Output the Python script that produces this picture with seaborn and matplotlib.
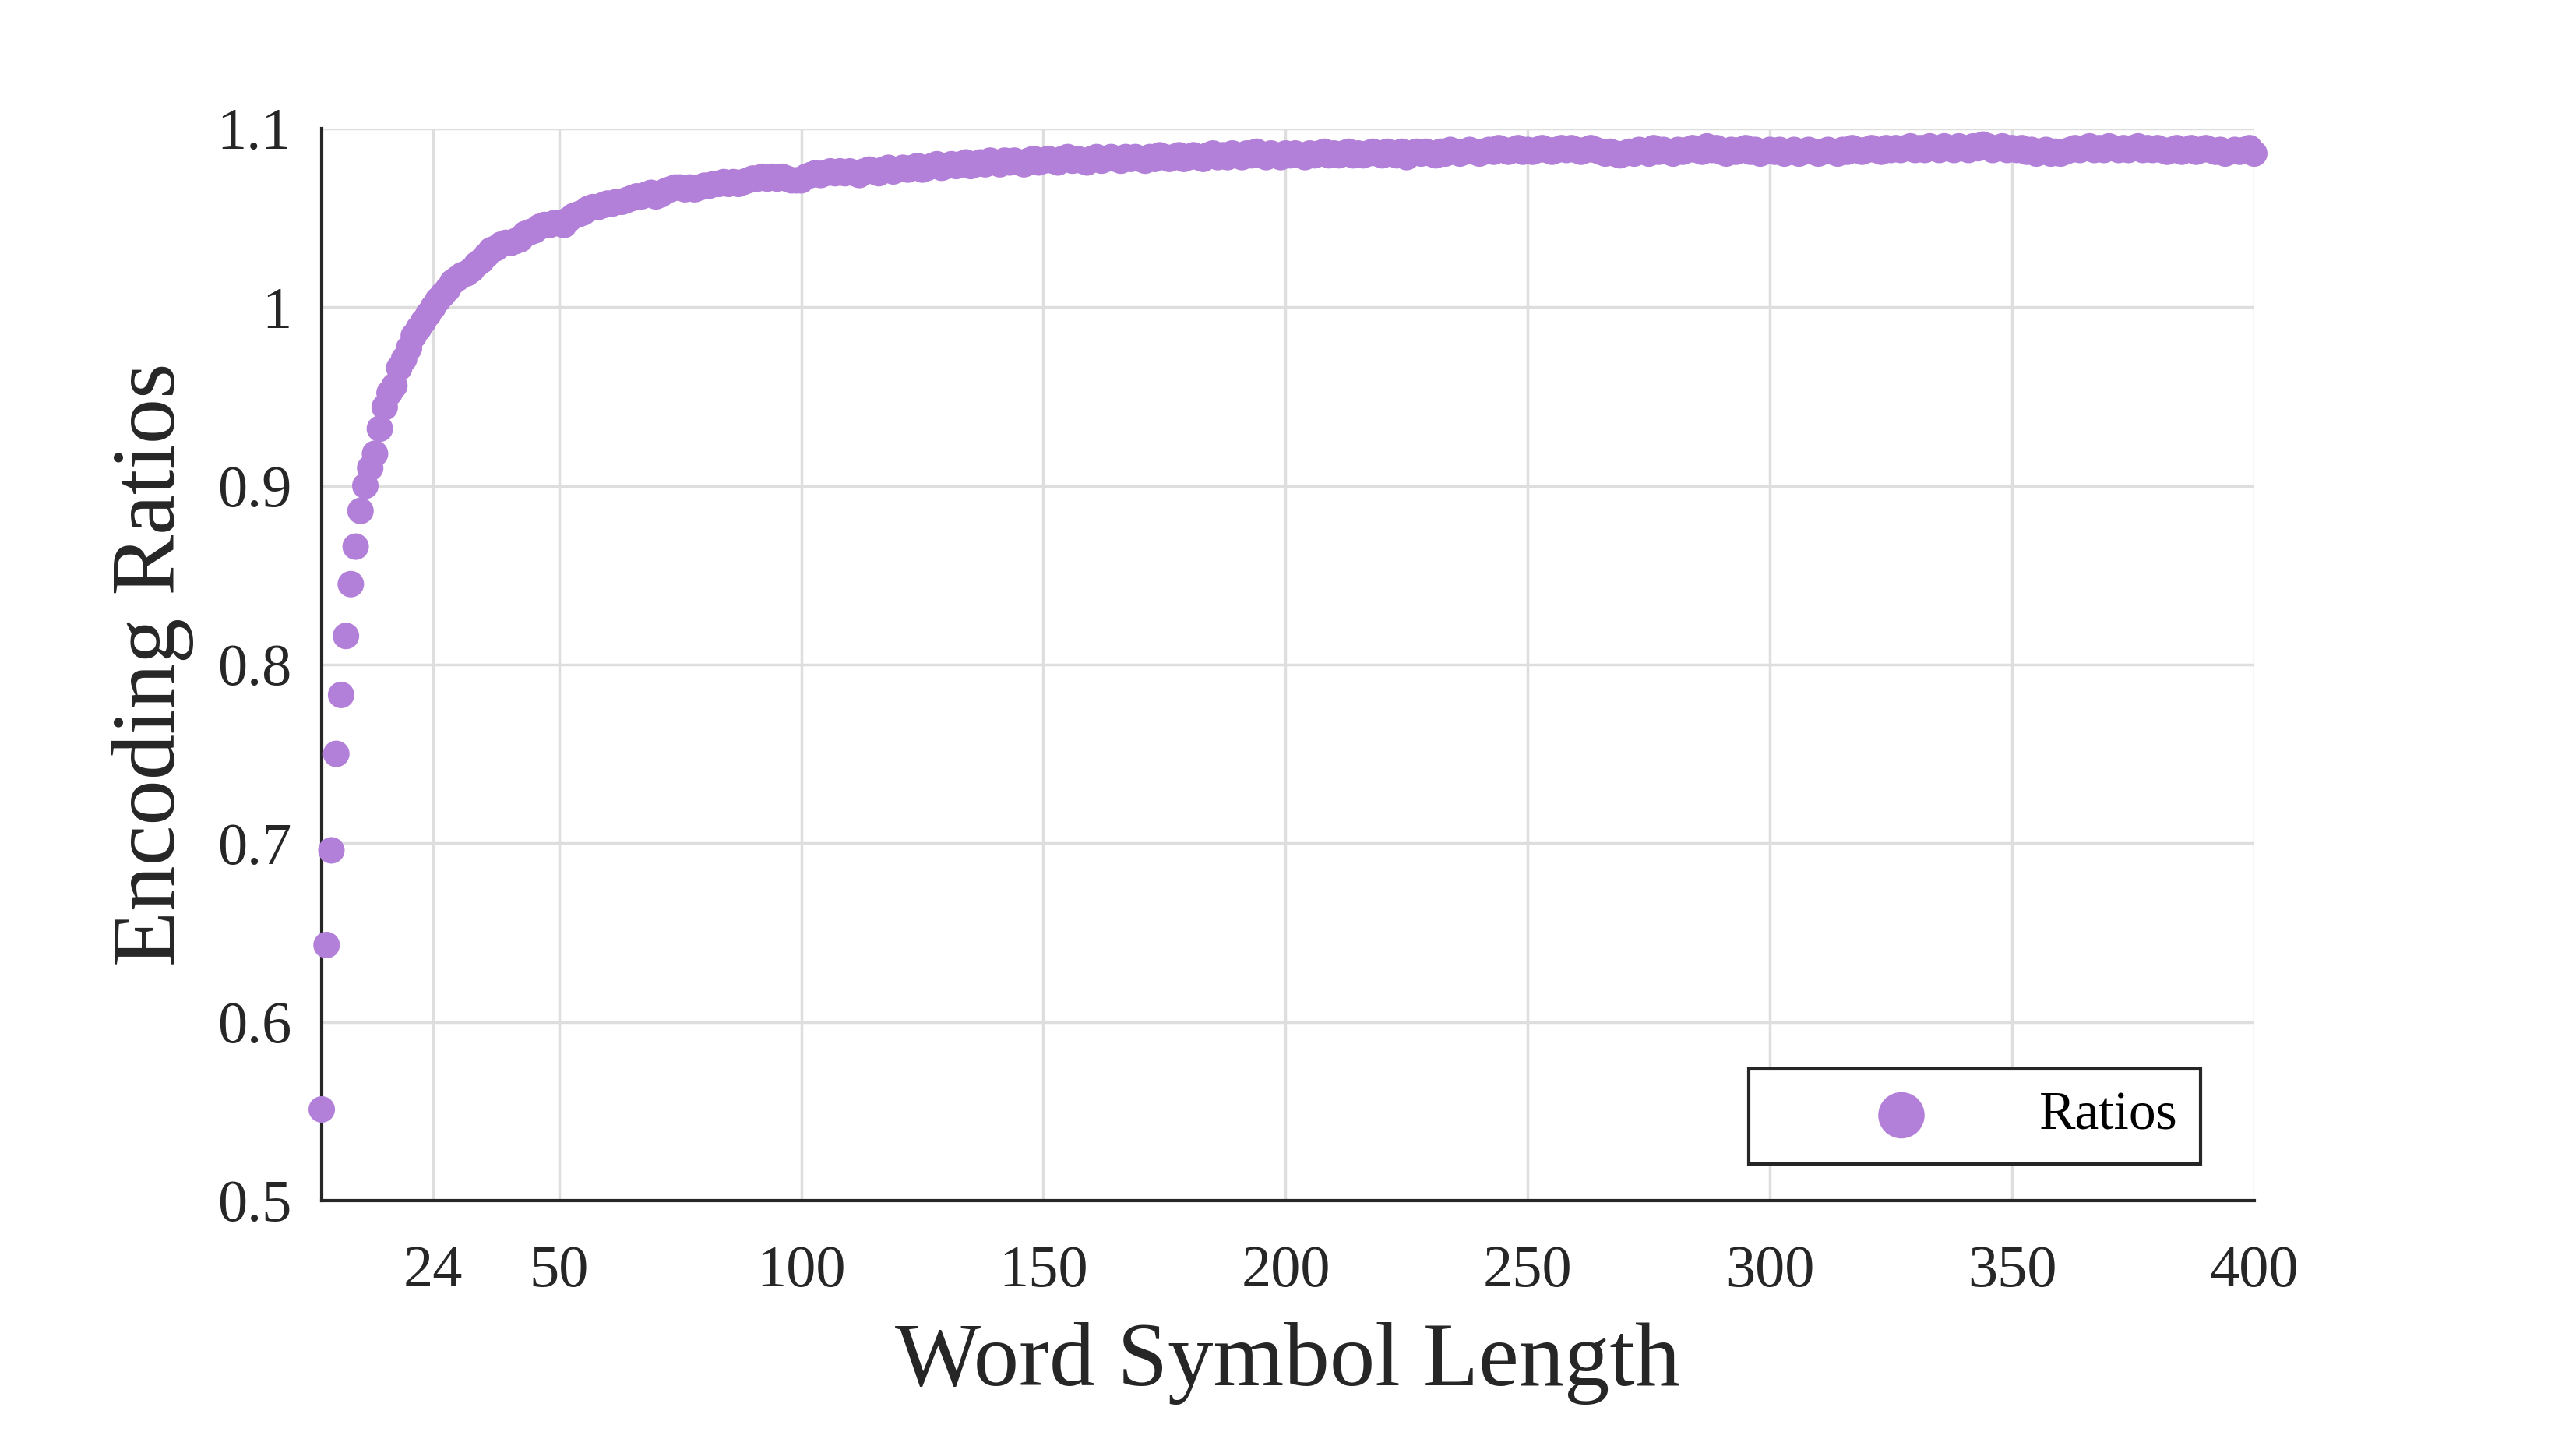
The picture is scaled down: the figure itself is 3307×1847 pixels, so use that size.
import numpy as np
import pandas as pd
import matplotlib
matplotlib.use("Agg")
import matplotlib.pyplot as plt
import seaborn as sns
from matplotlib.ticker import FormatStrFormatter

# Word symbol lengths 1..400 and the ratios
lengths = list(range(1, 401))
ratios = [
    0.551, 0.643, 0.696, 0.750, 0.783, 0.816, 0.845, 0.866, 0.886, 0.900,
    0.910, 0.918, 0.932, 0.944, 0.952, 0.956, 0.966, 0.971, 0.977, 0.984,
    0.988, 0.992, 0.996, 1.000, 1.004, 1.007, 1.010, 1.014, 1.016, 1.018,
    1.019, 1.021, 1.024, 1.026, 1.029, 1.032, 1.033, 1.035, 1.036, 1.036,
    1.037, 1.038, 1.041, 1.042, 1.043, 1.045, 1.046, 1.046, 1.047, 1.047,
    1.046, 1.049, 1.051, 1.052, 1.053, 1.055, 1.056, 1.056, 1.057, 1.058,
    1.058, 1.059, 1.059, 1.060, 1.061, 1.062, 1.062, 1.063, 1.064, 1.062,
    1.063, 1.065, 1.066, 1.067, 1.067, 1.066, 1.067, 1.066, 1.067, 1.068,
    1.068, 1.069, 1.069, 1.070, 1.069, 1.070, 1.069, 1.070, 1.071, 1.072,
    1.072, 1.073, 1.072, 1.073, 1.072, 1.073, 1.072, 1.071, 1.071, 1.071,
    1.073, 1.074, 1.075, 1.074, 1.075, 1.076, 1.075, 1.076, 1.075, 1.076,
    1.075, 1.074, 1.076, 1.077, 1.076, 1.075, 1.077, 1.078, 1.076, 1.077,
    1.078, 1.077, 1.078, 1.079, 1.077, 1.078, 1.079, 1.080, 1.078, 1.079,
    1.080, 1.079, 1.080, 1.081, 1.079, 1.080, 1.081, 1.080, 1.082, 1.081,
    1.080, 1.082, 1.081, 1.082, 1.081, 1.080, 1.082, 1.083, 1.081, 1.082,
    1.083, 1.082, 1.081, 1.083, 1.084, 1.082, 1.083, 1.082, 1.081, 1.083,
    1.084, 1.082, 1.083, 1.084, 1.083, 1.082, 1.084, 1.083, 1.084, 1.083,
    1.082, 1.084, 1.083, 1.085, 1.084, 1.083, 1.084, 1.085, 1.083, 1.084,
    1.085, 1.084, 1.083, 1.085, 1.086, 1.084, 1.085, 1.084, 1.086, 1.085,
    1.084, 1.086, 1.085, 1.087, 1.085, 1.084, 1.086, 1.085, 1.084, 1.086,
    1.085, 1.086, 1.085, 1.084, 1.086, 1.085, 1.086, 1.087, 1.085, 1.086,
    1.085, 1.086, 1.087, 1.085, 1.086, 1.085, 1.086, 1.087, 1.086, 1.085,
    1.087, 1.086, 1.085, 1.087, 1.084, 1.086, 1.087, 1.086, 1.087, 1.086,
    1.085, 1.087, 1.086, 1.088, 1.087, 1.086, 1.087, 1.088, 1.087, 1.086,
    1.087, 1.088, 1.087, 1.089, 1.088, 1.087, 1.088, 1.089, 1.087, 1.088,
    1.087, 1.088, 1.089, 1.088, 1.087, 1.088, 1.089, 1.088, 1.089, 1.088,
    1.087, 1.088, 1.089, 1.088, 1.087, 1.086, 1.087, 1.086, 1.085, 1.086,
    1.087, 1.086, 1.088, 1.087, 1.086, 1.089, 1.087, 1.088, 1.087, 1.086,
    1.088, 1.087, 1.088, 1.089, 1.088, 1.087, 1.090, 1.088, 1.089, 1.087,
    1.086, 1.088, 1.087, 1.088, 1.089, 1.087, 1.088, 1.086, 1.087, 1.088,
    1.087, 1.088, 1.086, 1.087, 1.088, 1.086, 1.087, 1.088, 1.087, 1.086,
    1.087, 1.088, 1.087, 1.086, 1.088, 1.087, 1.089, 1.088, 1.087, 1.088,
    1.089, 1.088, 1.087, 1.089, 1.088, 1.089, 1.088, 1.089, 1.090, 1.088,
    1.089, 1.088, 1.090, 1.089, 1.088, 1.090, 1.089, 1.088, 1.090, 1.089,
    1.088, 1.090, 1.089, 1.091, 1.090, 1.088, 1.089, 1.090, 1.088, 1.089,
    1.088, 1.089, 1.087, 1.088, 1.086, 1.087, 1.088, 1.086, 1.087, 1.086,
    1.087, 1.088, 1.089, 1.088, 1.089, 1.090, 1.088, 1.089, 1.088, 1.090,
    1.089, 1.088, 1.089, 1.088, 1.089, 1.090, 1.088, 1.089, 1.088, 1.089,
    1.088, 1.087, 1.088, 1.089, 1.087, 1.088, 1.089, 1.087, 1.088, 1.089,
    1.088, 1.087, 1.088, 1.086, 1.087, 1.088, 1.087, 1.088, 1.089, 1.086,
]
x_ticks = [24, 50, 100, 150, 200, 250, 300, 350, 400]
y_ticks = [0.5, 0.6, 0.7, 0.8, 0.9, 1.0, 1.1]

df = pd.DataFrame({"Word Symbol Length": lengths, "Encoding Ratios": ratios})

sns.set_style("whitegrid")
plt.rcParams["font.family"] = ["Liberation Serif", "DejaVu Serif"]

purple = "#B380D9"
dark = "#262626"

fig = plt.figure(figsize=(33.07, 18.47), dpi=100)
ax = fig.add_axes([0.1249, 0.1657, 0.7502, 0.745])

sns.scatterplot(data=df, x="Word Symbol Length", y="Encoding Ratios", ax=ax,
                color=purple, s=600, edgecolor="none", linewidth=0,
                label="Ratios", clip_on=False, zorder=5)

ax.set_xlim(1, 400)
ax.set_ylim(0.5, 1.1)
ax.set_xticks(x_ticks)
ax.set_yticks(y_ticks)
ax.yaxis.set_major_formatter(FormatStrFormatter("%g"))

ax.grid(True, color="#DEDEDE", linewidth=2.5)
for side in ["top", "right"]:
    ax.spines[side].set_visible(False)
for side in ["left", "bottom"]:
    ax.spines[side].set_visible(True)
    ax.spines[side].set_color(dark)
    ax.spines[side].set_linewidth(3)

ax.tick_params(axis="both", direction="in", length=19, width=3, color=dark,
               labelsize=55, labelcolor=dark)
ax.tick_params(axis="x", pad=41)
ax.tick_params(axis="y", pad=28)

ax.set_xlabel("Word Symbol Length", fontsize=84, color=dark, labelpad=22)
ax.set_ylabel("Encoding Ratios", fontsize=84, color=dark, labelpad=21)

leg = ax.legend(loc="lower right", bbox_to_anchor=(0.9722, 0.0342),
                borderaxespad=0, fontsize=50, markerscale=1.75,
                fancybox=False, framealpha=1, edgecolor=dark,
                borderpad=0.42, handlelength=4.8, handletextpad=0.15)
leg.get_frame().set_linewidth(3)
for t in leg.get_texts():
    t.set_color("black")

fig.savefig("out.png", dpi=100)
